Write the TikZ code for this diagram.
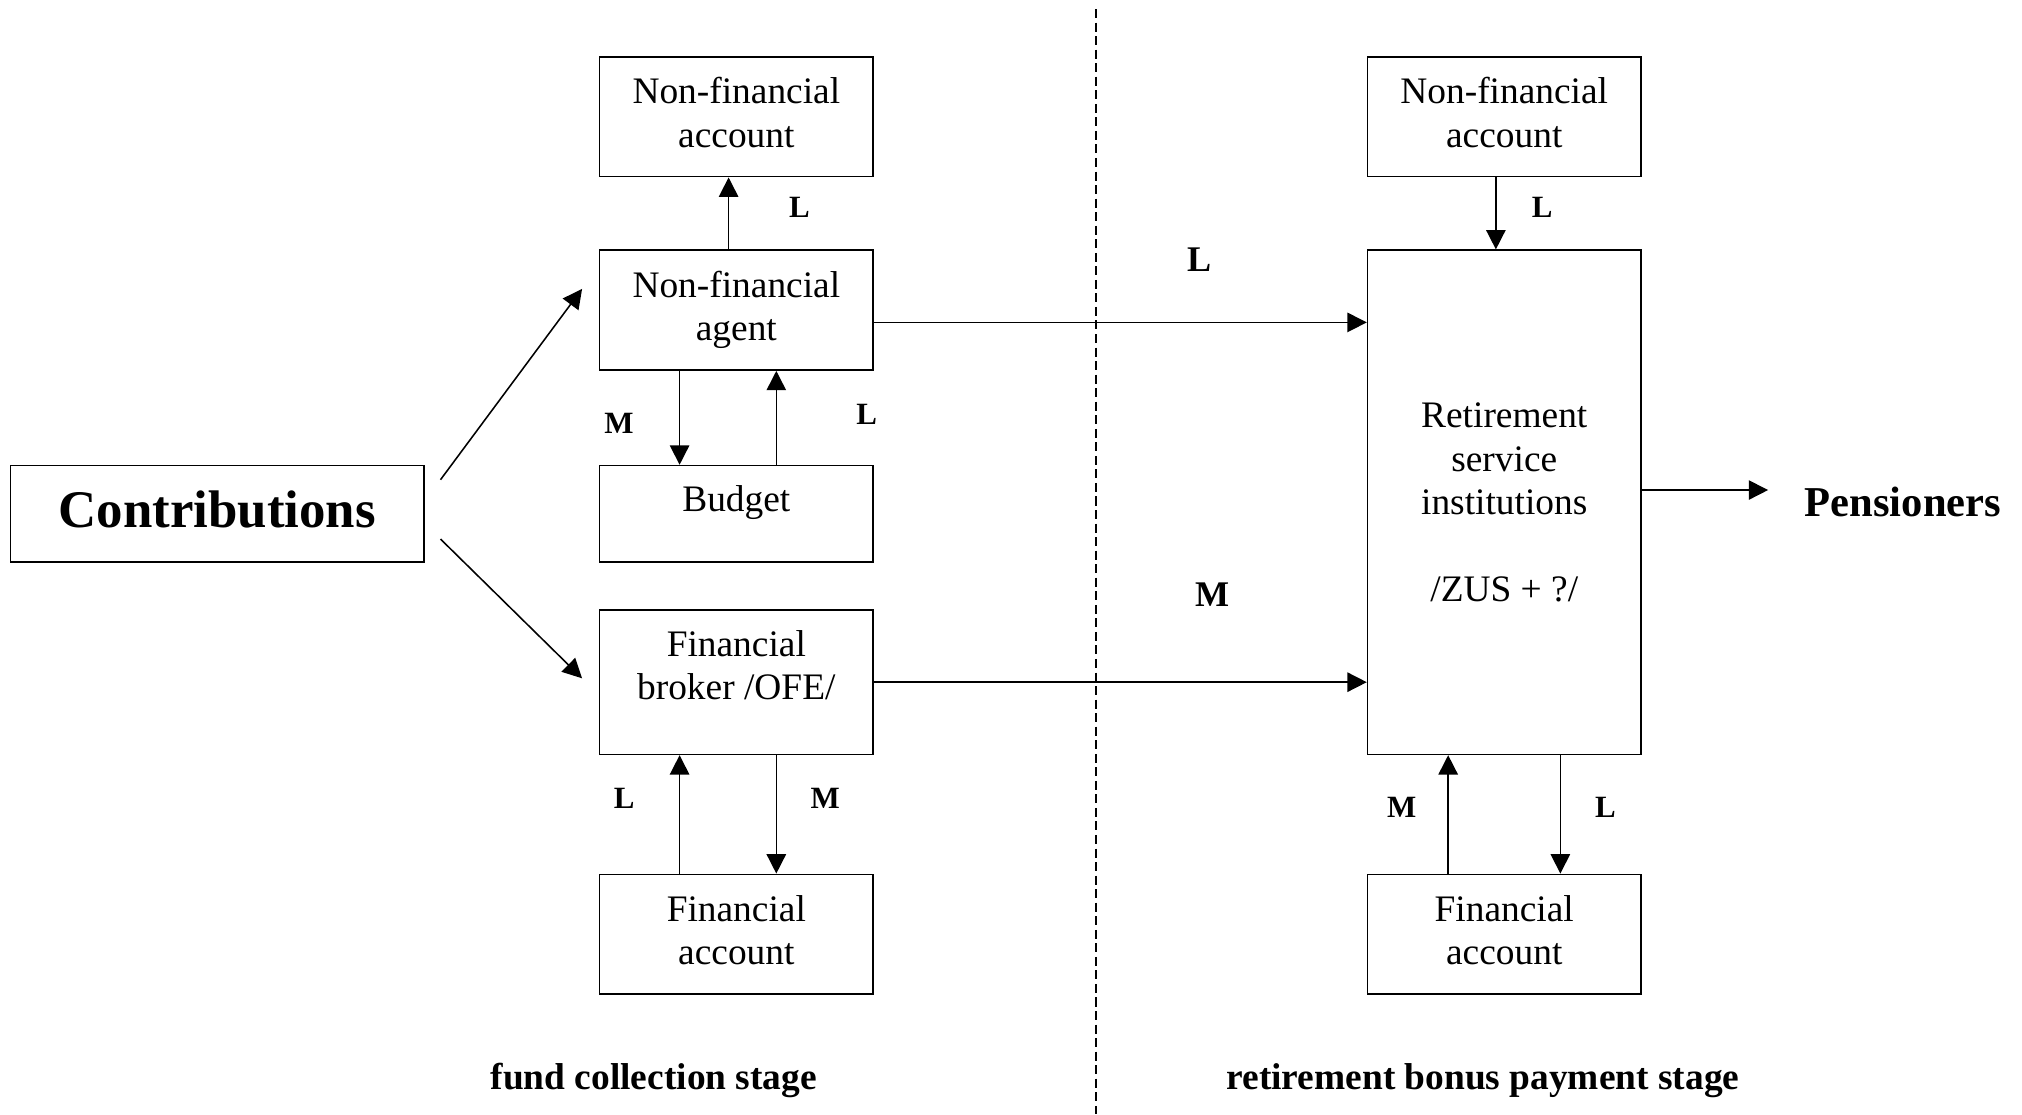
\documentclass[tikz,border=0pt]{standalone}
\usepackage{fontspec}
\setmainfont{Liberation Serif}
\usetikzlibrary{arrows.meta}

\begin{document}
\begin{tikzpicture}
  [x=0.5pt,y=-0.5pt,line width=0.6pt,
   every node/.style={inner sep=0pt},
   box/.style={draw,minimum width=106pt,minimum height=46.5pt,align=center,
     font=\fontsize{14.5}{16.8}\selectfont},
   twoline/.style={box,text height=28pt,text depth=4.4pt},
   flow/.style={-{Triangle[length=7.5pt,width=7.5pt]}},
   lbl/.style={font=\fontsize{12}{14}\selectfont\bfseries},
   biglbl/.style={font=\fontsize{14}{16}\selectfont\bfseries},
   stage/.style={font=\fontsize{14.5}{17}\selectfont\bfseries}]
  \useasboundingbox (0,0) rectangle (1568,864);

  % fund collection stage
  \node[twoline] (nfacc1) at (571,90.5) {Non-financial\\account};
  \node[twoline] (nfagent) at (571,240.5) {Non-financial\\agent};
  \node[box,minimum height=37.5pt,text height=18pt,text depth=19.5pt] (budget) at (571,398.5) {Budget};
  \node[box,minimum height=56pt,text height=26pt,text depth=12.6pt] (broker) at (571,529) {Financial\\broker /OFE/};
  \node[twoline] (finacc1) at (571,724.5) {Financial\\account};
  \node[draw,minimum width=160.5pt,minimum height=37.5pt,text height=14.5pt,text depth=4pt,
    font=\fontsize{20.5}{24}\selectfont\bfseries] (contrib) at (168.5,398.5) {Contributions};

  % retirement bonus payment stage
  \node[twoline] (nfacc2) at (1166.5,90.5) {Non-financial\\account};
  \node[box,minimum height=195.5pt] (retire) at (1166.5,389.5)
    {Retirement\\service\\institutions\\\mbox{}\\/ZUS + ?/};
  \node[twoline] (finacc2) at (1166.5,724.5) {Financial\\account};
  \node[font=\fontsize{16.5}{19}\selectfont\bfseries,anchor=west] (pens) at (1399,389) {Pensioners};

  % divider
  \coordinate (divtop) at (850,7);
  \coordinate (divbot) at (850,864);
  \draw[dash pattern=on 3.5pt off 1.75pt] (divtop) -- (divbot);

  % connectors
  \draw[flow] ([shift={(12,-26.5)}]contrib.east) -- ([shift={(-13,-16.5)}]nfagent.west);
  \draw[flow] ([shift={(12,19.5)}]contrib.east) -- ([shift={(-13,-3)}]broker.west);
  \draw[flow] ([xshift=-3pt]nfagent.north) -- ([xshift=-3pt]nfacc1.south);
  \draw[flow] ([xshift=-22pt]nfagent.south) -- ([xshift=-22pt]budget.north);
  \draw[flow] ([xshift=15.5pt]budget.north) -- ([xshift=15.5pt]nfagent.south);
  \draw[flow] ([xshift=-22pt]finacc1.north) -- ([xshift=-22pt]broker.south);
  \draw[flow] ([xshift=15.5pt]broker.south) -- ([xshift=15.5pt]finacc1.north);
  \draw[flow] ([yshift=-4.75pt]nfagent.east) -- ([yshift=-4.75pt]nfagent.east -| retire.west);
  \draw[flow] (broker.east) -- (broker.east -| retire.west);
  \draw[flow] ([xshift=-3.25pt]nfacc2.south) -- ([xshift=-3.25pt]retire.north);
  \draw[flow] ([xshift=-21.75pt]finacc2.north) -- ([xshift=-21.75pt]retire.south);
  \draw[flow] ([xshift=21.75pt]retire.south) -- ([xshift=21.75pt]finacc2.north);
  \draw[flow] ([yshift=4.75pt]retire.east) -- +(98,0);

  % flow labels
  \node[lbl] (l1) at (620,161) {L};
  \node[biglbl] (l2) at (930,201) {L};
  \node[lbl] (m1) at (480,328) {M};
  \node[lbl] (l3) at (672,321) {L};
  \node[biglbl] (m2) at (940,461) {M};
  \node[lbl] (l4) at (484,619) {L};
  \node[lbl] (m3) at (640,619) {M};
  \node[lbl] (l5) at (1196,161) {L};
  \node[lbl] (m4) at (1087,626) {M};
  \node[lbl] (l6) at (1245,626) {L};

  % stage names
  \node[stage] (stage1) at (507,838) {fund collection stage};
  \node[stage] (stage2) at (1150,838) {retirement bonus payment stage};
\end{tikzpicture}
\end{document}
